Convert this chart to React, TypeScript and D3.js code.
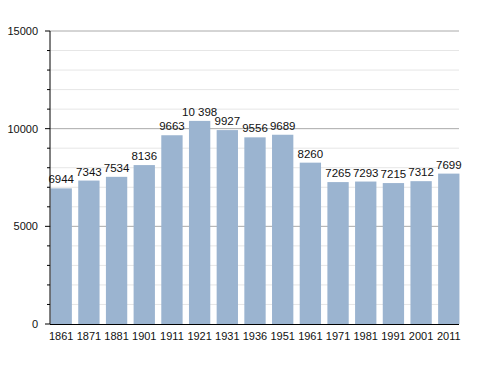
import * as d3 from 'd3'

const years = ['1861', '1871', '1881', '1901', '1911', '1921', '1931', '1936', '1951', '1961', '1971', '1981', '1991', '2001', '2011']
const population = [6944, 7343, 7534, 8136, 9663, 10398, 9927, 9556, 9689, 8260, 7265, 7293, 7215, 7312, 7699]
const majorTicks = [0, 5000, 10000, 15000]
const minorTicks = d3.range(0, 15001, 1000)

const W = 488
const H = 373
const left = 50
const right = 459
const top = 31
const bottom = 324

const fmt = (v: number) => v >= 10000 ? d3.format(',')(v).replace(',', ' ') : String(v)

export default function App() {
  const x = d3.scaleBand<string>()
    .domain(years)
    .range([left, right + 1])
    .paddingInner(0.23)
    .paddingOuter(0.02)

  const y = d3.scaleLinear()
    .domain([0, 15000])
    .range([bottom, top])

  const font = 'Liberation Sans, Arial, sans-serif'

  return (
    <svg width={W} height={H} style={{ position: 'absolute', left: 0, top: 0, background: '#fff' }}>
      {/* minor grid */}
      {minorTicks.filter(t => t % 5000 !== 0).map(t => (
        <line key={'g' + t} x1={left} x2={right} y1={y(t)} y2={y(t)} stroke='#e6e6e6' strokeWidth={1} />
      ))}
      {majorTicks.filter(t => t > 0).map(t => (
        <line key={'M' + t} x1={left} x2={right} y1={y(t)} y2={y(t)} stroke='#aaaaaa' strokeWidth={1} />
      ))}

      {population.map((v, i) => (
        <rect key={years[i]} x={x(years[i])} y={y(v)} width={x.bandwidth()} height={bottom - y(v)} fill='#9bb4d0' />
      ))}

      {population.map((v, i) => (
        <text key={'l' + i} x={(x(years[i]) as number) + x.bandwidth() / 2} y={y(v) - 5}
          textAnchor='middle' fontFamily={font} fontSize={11.5} fill='#111'>{fmt(v)}</text>
      ))}

      {/* axes */}
      <line x1={left} x2={left} y1={top} y2={bottom} stroke='#000' strokeWidth={1} />
      <line x1={left} x2={right} y1={bottom + 0.5} y2={bottom + 0.5} stroke='#000' strokeWidth={1} />
      {minorTicks.map(t => (
        <line key={'t' + t} x1={t % 5000 === 0 ? left - 5 : left - 3} x2={left} y1={y(t)} y2={y(t)} stroke='#000' strokeWidth={1} />
      ))}
      {majorTicks.map(t => (
        <text key={'y' + t} x={38} y={y(t) + 4} textAnchor='end' fontFamily={font} fontSize={11} fill='#111'>{t}</text>
      ))}
      {years.map(yr => (
        <text key={'x' + yr} x={(x(yr) as number) + x.bandwidth() / 2} y={bottom + 16}
          textAnchor='middle' fontFamily={font} fontSize={11} fill='#111'>{yr}</text>
      ))}
    </svg>
  )
}
